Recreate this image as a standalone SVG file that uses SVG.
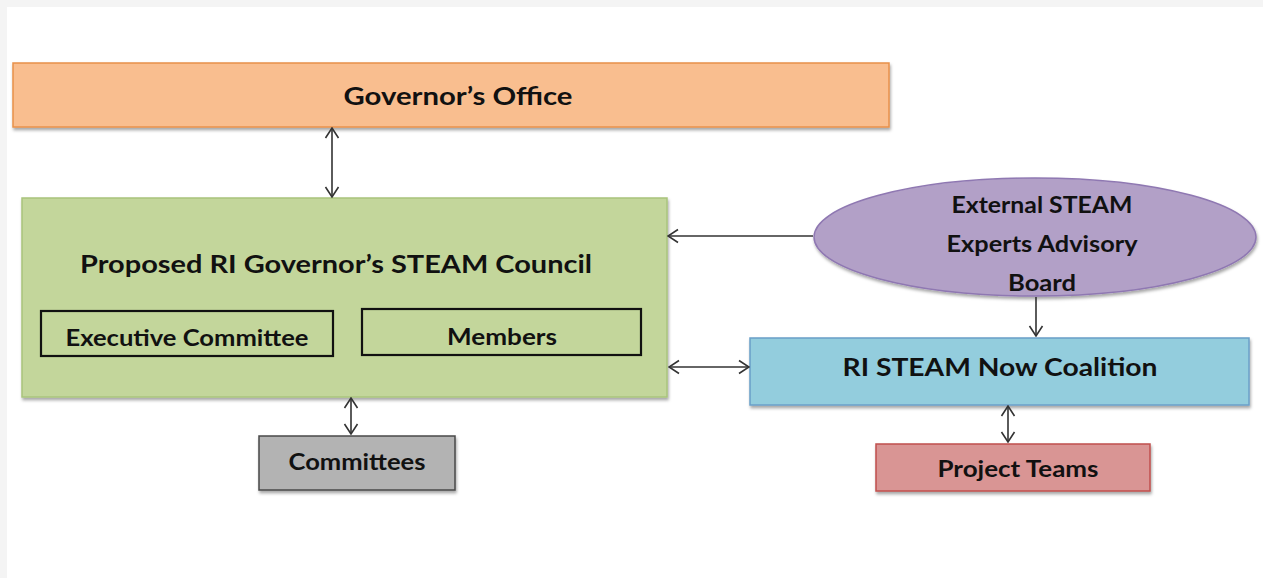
<svg xmlns="http://www.w3.org/2000/svg" width="1263" height="578" viewBox="0 0 1263 578">
  <defs>
    <filter id="shadow" x="-5%" y="-10%" width="110%" height="130%">
      <feDropShadow dx="1" dy="2.5" stdDeviation="1.5" flood-color="#000" flood-opacity="0.35"/>
    </filter>
    <marker id="head" viewBox="0 0 12 16" refX="11" refY="8" markerWidth="12" markerHeight="16" markerUnits="userSpaceOnUse" orient="auto-start-reverse">
      <path d="M1,1.5 L11,8 L1,14.5" fill="none" stroke="#333" stroke-width="1.6"/>
    </marker>
    <style>
      .lbl { font-family: Lato, "Open Sans", "Liberation Sans", sans-serif; font-weight: bold; fill: #111; text-anchor: middle; }
      .conn { stroke: #333; stroke-width: 1.6; fill: none; }
      .inner { fill: none; stroke: #111; stroke-width: 2.2; }
    </style>
  </defs>

  <!-- page frame -->
  <rect x="0" y="0" width="1263" height="578" fill="#f4f4f4"/>
  <rect x="7" y="7" width="1256" height="571" fill="#ffffff"/>

  <g id="governors-office">
    <rect x="13" y="63" width="876" height="64" fill="#f9be8f" stroke="#e8914a" stroke-width="1.5" filter="url(#shadow)"/>
    <text class="lbl" x="458" y="105" font-size="25" textLength="229" lengthAdjust="spacingAndGlyphs">Governor’s Office</text>
  </g>

  <g id="steam-council">
    <rect x="22" y="198" width="645" height="199" fill="#c3d69b" stroke="#a9c47c" stroke-width="1.5" filter="url(#shadow)"/>
    <text class="lbl" x="336" y="273" font-size="25" textLength="512" lengthAdjust="spacingAndGlyphs">Proposed RI Governor’s STEAM Council</text>
    <g id="executive-committee">
      <rect class="inner" x="41" y="311" width="292" height="45"/>
      <text class="lbl" x="187" y="346" font-size="22" textLength="243" lengthAdjust="spacingAndGlyphs">Executive Committee</text>
    </g>
    <g id="members">
      <rect class="inner" x="362" y="309" width="279" height="46"/>
      <text class="lbl" x="502" y="345" font-size="22" textLength="110" lengthAdjust="spacingAndGlyphs">Members</text>
    </g>
  </g>

  <g id="committees">
    <rect x="259" y="436" width="196" height="54" fill="#b3b3b3" stroke="#4a4a4a" stroke-width="1.5" filter="url(#shadow)"/>
    <text class="lbl" x="357" y="470" font-size="22" textLength="137" lengthAdjust="spacingAndGlyphs">Committees</text>
  </g>

  <g id="advisory-board">
    <ellipse cx="1035" cy="237" rx="221" ry="59" fill="#b2a0c7" stroke="#8f78b2" stroke-width="1.5" filter="url(#shadow)"/>
    <text class="lbl" x="1042" y="213" font-size="22" textLength="181" lengthAdjust="spacingAndGlyphs">External STEAM</text>
    <text class="lbl" x="1042" y="252" font-size="22" textLength="191" lengthAdjust="spacingAndGlyphs">Experts Advisory</text>
    <text class="lbl" x="1042" y="291" font-size="22" textLength="68" lengthAdjust="spacingAndGlyphs">Board</text>
  </g>

  <g id="steam-now-coalition">
    <rect x="750" y="338" width="499" height="67" fill="#93cddd" stroke="#6a9fc8" stroke-width="1.5" filter="url(#shadow)"/>
    <text class="lbl" x="1000" y="376" font-size="25" textLength="315" lengthAdjust="spacingAndGlyphs">RI STEAM Now Coalition</text>
  </g>

  <g id="project-teams">
    <rect x="876" y="444" width="274" height="47" fill="#d99594" stroke="#c0504d" stroke-width="1.5" filter="url(#shadow)"/>
    <text class="lbl" x="1018" y="477" font-size="22" textLength="161" lengthAdjust="spacingAndGlyphs">Project Teams</text>
  </g>

  <g id="connectors">
    <line class="conn" x1="332" y1="128" x2="332" y2="197" marker-start="url(#head)" marker-end="url(#head)"/>
    <line class="conn" x1="813" y1="236" x2="668" y2="236" marker-end="url(#head)"/>
    <line class="conn" x1="669" y1="367" x2="749" y2="367" marker-start="url(#head)" marker-end="url(#head)"/>
    <line class="conn" x1="1036" y1="297" x2="1036" y2="336" marker-end="url(#head)"/>
    <line class="conn" x1="351" y1="398" x2="351" y2="434" marker-start="url(#head)" marker-end="url(#head)"/>
    <line class="conn" x1="1008" y1="406" x2="1008" y2="442" marker-start="url(#head)" marker-end="url(#head)"/>
  </g>
</svg>
